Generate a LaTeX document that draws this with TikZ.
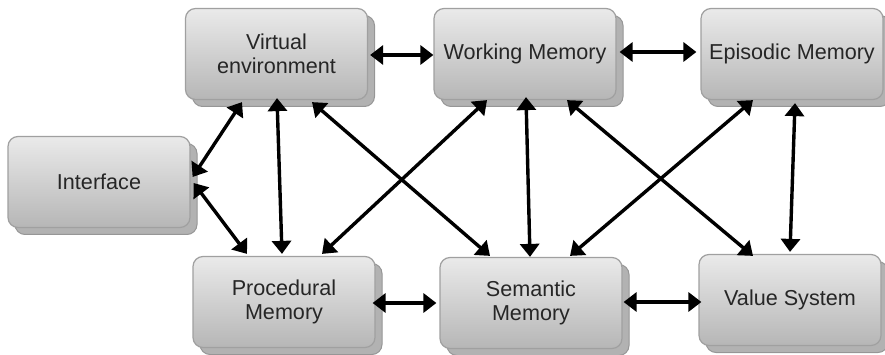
\documentclass[tikz,border=0pt]{standalone}
\usepackage{fontspec}
\setmainfont{Liberation Sans}
\usetikzlibrary{arrows.meta,shadows,calc}
\definecolor{boxtop}{RGB}{234,234,234}
\definecolor{boxbot}{RGB}{182,182,182}
\definecolor{boxline}{RGB}{160,160,160}
\definecolor{shfill}{RGB}{178,178,178}
\definecolor{shline}{RGB}{150,150,150}
\tikzset{
  mbox/.style={rounded corners=10pt, draw=boxline, line width=1.2pt,
    top color=boxtop, bottom color=boxbot,
    minimum width=182pt, minimum height=91pt, inner sep=2pt,
    align=center, text=black!85,
    font=\fontsize{21.6}{23.5}\selectfont,
    general shadow={shadow xshift=7pt, shadow yshift=-7pt, fill=shfill, draw=shline, line width=1pt}},
  biarr/.style={line width=3.4pt, {Triangle[length=13pt,width=19pt]}-{Triangle[length=13pt,width=19pt]}}
}
\begin{document}
\begin{tikzpicture}[x=1pt,y=-1pt]
\useasboundingbox (0,0) rectangle (885,355);
\node[mbox] (ve) at (276.5,54) {Virtual\\environment};
\node[mbox] (wm) at (525,54) {Working Memory};
\node[mbox] (em) at (792,54) {Episodic Memory};
\node[mbox] (if) at (99,182) {Interface};
\node[mbox] (pm) at (284,302) {Procedural\\Memory};
\node[mbox] (sm) at (531,303) {Semantic\\Memory};
\node[mbox] (vs) at (790,300) {Value System};
% connectors
\draw[biarr] ($(ve.east)+(2,1)$) -- ($(wm.west)+(0,1)$);
\draw[biarr] ($(wm.east)+(3,-2)$) -- ($(em.west)+(-4,-2)$);
\draw[biarr] ($(if.east)+(2,-5)$) -- ($(ve.south)+(-34.5,2)$);
\draw[biarr] ($(if.east)+(3,1)$) -- ($(pm.north)+(-37,-2)$);
\draw[biarr] ($(ve.south)+(0.5,-2)$) -- ($(pm.north)+(-2,-2)$);
\draw[biarr] ($(ve.south)+(35.5,2)$) -- ($(sm.north)+(-41,-1)$);
\draw[biarr] ($(wm.south)+(-38,0)$) -- ($(pm.north)+(38,-2)$);
\draw[biarr] ($(wm.south)+(1,-3)$) -- ($(sm.north)+(-1,0)$);
\draw[biarr] ($(wm.south)+(42,0)$) -- ($(vs.north)+(-37,2)$);
\draw[biarr] ($(em.south)+(-39,0)$) -- ($(sm.north)+(39,-1)$);
\draw[biarr] ($(em.south)+(3,3)$) -- ($(vs.north)+(0,-2)$);
\draw[biarr] ($(pm.east)+(-3,1)$) -- ($(sm.west)+(-3,0)$);
\draw[biarr] ($(sm.east)+(1,-1)$) -- ($(vs.west)+(3,2)$);
\end{tikzpicture}
\end{document}
